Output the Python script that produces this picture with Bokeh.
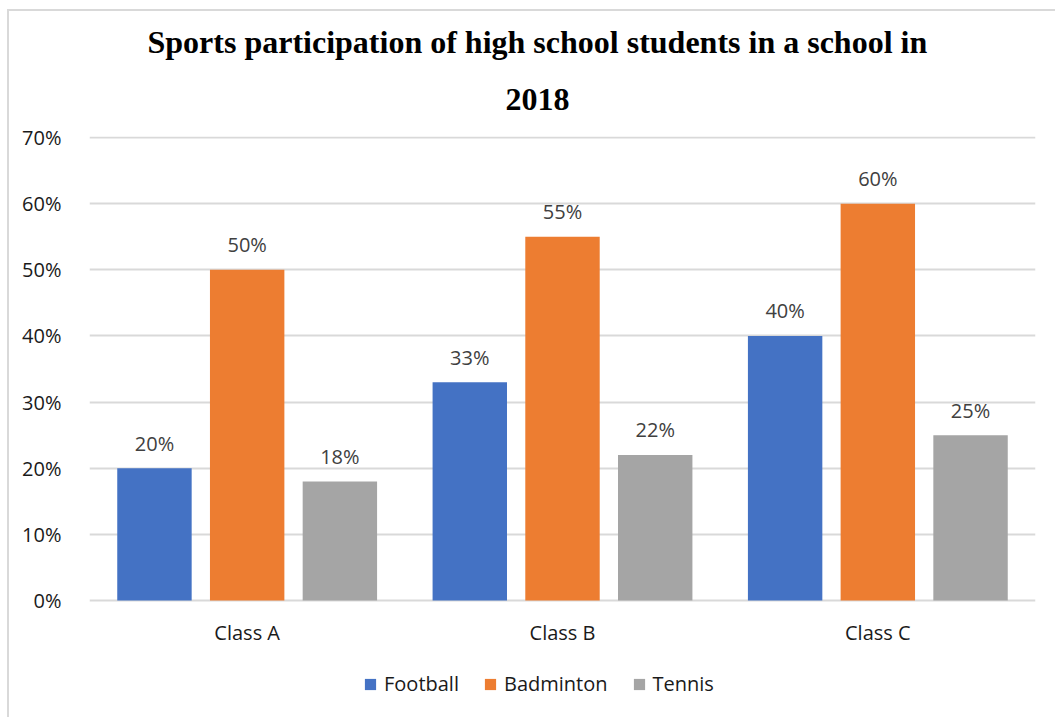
from bokeh.plotting import figure
from bokeh.models import (ColumnDataSource, FactorRange, Range1d, NumeralTickFormatter,
                          FixedTicker, Legend, LegendItem, Title)
from bokeh.transform import dodge
from bokeh.core.properties import value
from bokeh.embed import file_html
from bokeh.resources import INLINE

classes = ["Class A", "Class B", "Class C"]
series = ["Football", "Badminton", "Tennis"]
football = [0.20, 0.33, 0.40]
badminton = [0.50, 0.55, 0.60]
tennis = [0.18, 0.22, 0.25]
colors = ["#4472C4", "#ED7D31", "#A5A5A5"]
y_ticks = [0, 0.1, 0.2, 0.3, 0.4, 0.5, 0.6, 0.7]
title_lines = ["Sports participation of high school students in a school in", "2018"]

FONT = "Open Sans"

src = ColumnDataSource(dict(
    cls=classes,
    base=[0.0] * len(classes),
    Football=football,
    Badminton=badminton,
    Tennis=tennis,
    Football_lbl=[f"{round(v*100)}%" for v in football],
    Badminton_lbl=[f"{round(v*100)}%" for v in badminton],
    Tennis_lbl=[f"{round(v*100)}%" for v in tennis],
))

# canvas is shifted by the CSS border (left 9px, top 11px)
p = figure(frame_width=946, frame_height=581, x_range=FactorRange(*classes, range_padding=0),
           y_range=Range1d(-0.1769, 0.7015), output_backend="svg", toolbar_location=None,
           min_border_left=80, min_border_right=20, min_border_top=125, min_border_bottom=0,
           background_fill_color="white", border_fill_color="white")
p.styles = {"border-left": "2px solid #D9D9D9", "border-top": "2px solid #D9D9D9",
            "margin-left": "7px", "margin-top": "9px"}
p.outline_line_color = None

p.title = Title(text=title_lines[0], text_font="Liberation Serif", text_font_size="32px",
                text_font_style="bold", text_color="black", align="left", offset=58,
                standoff=0)
p.add_layout(Title(text=title_lines[1], text_font="Liberation Serif", text_font_size="32px",
                   text_font_style="bold", text_color="black", align="left", offset=416,
                   standoff=54),
             "above")

offsets = [-0.294, 0.0, 0.294]
items = []
for s, c, off in zip(series, colors, offsets):
    r = p.vbar(x=dodge("cls", off, range=p.x_range), top=s, bottom=0, width=0.236, source=src,
               fill_color=c, line_color=None)
    p.text(x=dodge("cls", off, range=p.x_range), y=s, text=s + "_lbl", source=src,
           text_font=value(FONT), text_font_size="20px", text_color="#404040",
           text_align="center", text_baseline="alphabetic", y_offset=-25)
    items.append(LegendItem(label=s, renderers=[r]))

# category labels (x axis)
p.text(x="cls", y="base", text="cls", source=src, text_font=value(FONT),
       text_font_size="20px", text_color="#1a1a1a", text_align="center",
       text_baseline="middle", y_offset=32)
p.xaxis.visible = False

# y axis
p.yaxis.ticker = FixedTicker(ticks=y_ticks)
p.yaxis.formatter = NumeralTickFormatter(format="0%")
p.yaxis.axis_line_color = None
p.yaxis.major_tick_line_color = None
p.yaxis.minor_tick_line_color = None
p.yaxis.major_label_text_font = FONT
p.yaxis.major_label_text_font_size = "20px"
p.yaxis.major_label_text_color = "#1a1a1a"
p.yaxis.major_label_standoff = 22

p.xgrid.grid_line_color = None
p.ygrid.grid_line_color = "#D9D9D9"
p.ygrid.grid_line_width = 2

legend = Legend(items=items, orientation="horizontal", location=(274, 20),
                label_text_font=FONT, label_text_font_size="20px", label_text_color="#1a1a1a",
                glyph_width=14, glyph_height=14, label_height=24, label_standoff=7,
                spacing=24, padding=0,
                border_line_color=None, background_fill_alpha=0, margin=0)
p.add_layout(legend, "center")

open("out.html", "w").write(file_html(p, INLINE))
